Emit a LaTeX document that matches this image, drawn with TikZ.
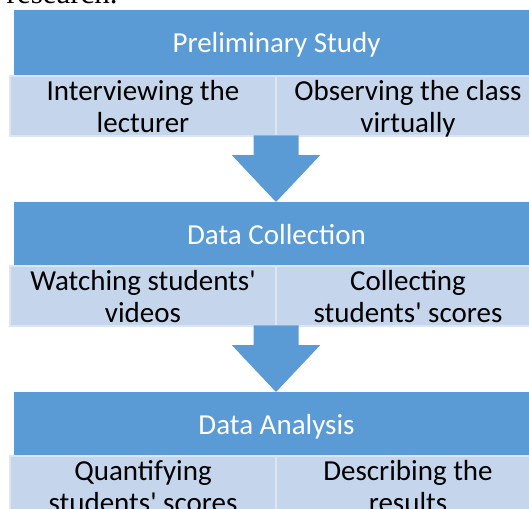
\documentclass[tikz,border=0pt]{standalone}
\usepackage{fontspec}
\setmainfont{Carlito}
\newfontfamily\refserif{Liberation Serif}
\usetikzlibrary{calc}
\definecolor{hdrblue}{HTML}{5B9BD5}
\definecolor{cellblue}{HTML}{C5D6EC}
\definecolor{cellline}{HTML}{DCE6F3}
\newcommand{\sq}{\textquotesingle}
\begin{document}
\begin{tikzpicture}[x=1pt,y=-1pt,
  header/.style={rectangle, fill=hdrblue, text=white, inner sep=0pt, outer sep=0pt,
    minimum width=526pt, minimum height=66pt, text height=42.3pt, text depth=23.7pt,
    anchor=north west, font=\fontsize{29}{32}\selectfont},
  cell/.style={rectangle, fill=cellblue, draw=cellline, line width=1.2pt, inner sep=0pt, outer sep=0pt,
    minimum height=60pt, text height=24pt, text depth=36pt,
    anchor=north west, font=\fontsize{29}{32}\selectfont},
  cellL/.style={cell, minimum width=266pt},
  cellR/.style={cell, minimum width=264pt},
  blockarrow/.style={fill=hdrblue}
]
\useasboundingbox (0,0) rectangle (529,508);
\clip (0,0) rectangle (529,508);

\node[anchor=base west, inner sep=0pt, font=\refserif\fontsize{31}{31}\selectfont] (cap) at (6.5,4) {research.};

% stage 1
\node[header] (h1) at (13.5,10) {Preliminary Study};
\node[cellL] (c1L) at (10,76) {\parbox[t]{260pt}{\centering Interviewing the\\lecturer}};
\node[cellR] (c1R) at (276,76) {\parbox[t]{260pt}{\centering Observing the class\\virtually}};

% stage 2
\node[header] (h2) at (13.5,202) {Data Collection};
\node[cellL] (c2L) at (10,266) {\parbox[t]{260pt}{\centering Watching students\sq\\videos}};
\node[cellR] (c2R) at (276,266) {\parbox[t]{260pt}{\centering Collecting\\students\sq{} scores}};

% stage 3
\node[header] (h3) at (13.5,392) {Data Analysis};
\node[cellL] (c3L) at (10,456) {\parbox[t]{260pt}{\centering Quantifying\\students\sq{} scores}};
\node[cellR] (c3R) at (276,456) {\parbox[t]{260pt}{\centering Describing the\\results}};

% block arrows
\coordinate (t1) at (c1L.south east);
\coordinate (p1) at (h2.north -| t1);
\fill[blockarrow] ($(t1)+(-22.5,-0.6)$) -- ($(t1)+(22.5,-0.6)$) -- ($(t1)+(22.5,19)$) -- ($(t1)+(44.3,19)$)
  -- (p1) -- ($(t1)+(-44.3,19)$) -- ($(t1)+(-22.5,19)$) -- cycle;

\coordinate (t2) at (c2L.south east);
\coordinate (p2) at (h3.north -| t2);
\fill[blockarrow] ($(t2)+(-22.5,-0.6)$) -- ($(t2)+(22.5,-0.6)$) -- ($(t2)+(22.5,19)$) -- ($(t2)+(44.3,19)$)
  -- (p2) -- ($(t2)+(-44.3,19)$) -- ($(t2)+(-22.5,19)$) -- cycle;
\end{tikzpicture}
\end{document}
